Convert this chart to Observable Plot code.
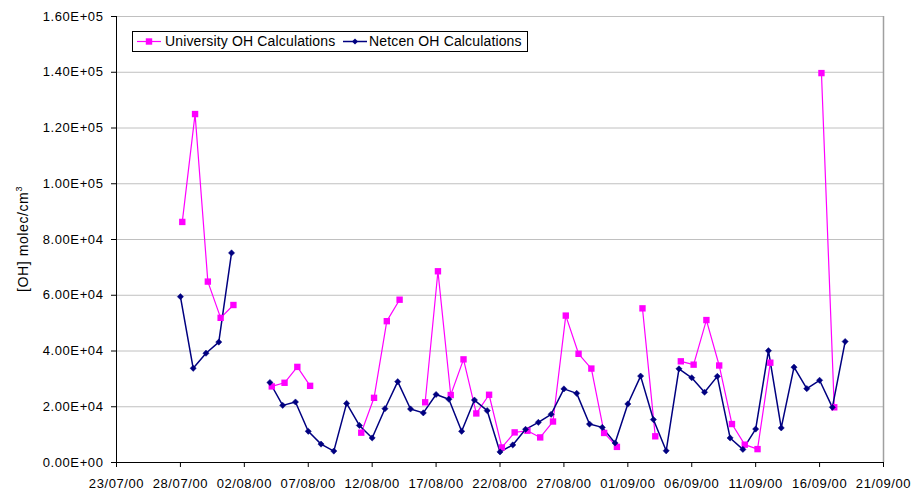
<!DOCTYPE html>
<html>
<head>
<meta charset="utf-8">
<script src="https://cdn.jsdelivr.net/npm/d3@7"></script>
<script src="https://cdn.jsdelivr.net/npm/@observablehq/plot@0.6"></script>
<style>
  html, body { margin: 0; padding: 0; background: #fff; }
  #wrap { position: relative; width: 912px; height: 490px; font-family: "Liberation Sans", Arial, sans-serif; }
  #legend { position: absolute; left: 132px; top: 31px; width: 394px; height: 19px; border: 1px solid #000; background: #fff; font-size: 14px; letter-spacing: 0.15px; line-height: 19px; color: #000; }
  #legend .sw { position: absolute; top: 0; }
  #legend .tx { position: absolute; top: 0; white-space: nowrap; }
  #ylabel { position: absolute; left: 22px; top: 239px; transform: translate(-50%, -50%) rotate(-90deg); white-space: nowrap; font-size: 14px; letter-spacing: 0.6px; color: #000; }
  #ylabel sup { font-size: 9px; vertical-align: 6px; }
</style>
</head>
<body>
<div id="wrap">
  <div id="chart"></div>
  <div id="ylabel">[OH] molec/cm<sup>3</sup></div>
  <div id="legend"></div>
</div>
<script>
// ---- Data ----
const dates = [
  "2000-07-28","2000-07-29","2000-07-30","2000-07-31",
  "2000-08-01","2000-08-02","2000-08-03","2000-08-04","2000-08-05","2000-08-06","2000-08-07","2000-08-08",
  "2000-08-09","2000-08-10","2000-08-11","2000-08-12","2000-08-13","2000-08-14","2000-08-15","2000-08-16",
  "2000-08-17","2000-08-18","2000-08-19","2000-08-20","2000-08-21","2000-08-22","2000-08-23","2000-08-24",
  "2000-08-25","2000-08-26","2000-08-27","2000-08-28","2000-08-29","2000-08-30","2000-08-31",
  "2000-09-01","2000-09-02","2000-09-03","2000-09-04","2000-09-05","2000-09-06","2000-09-07","2000-09-08",
  "2000-09-09","2000-09-10","2000-09-11","2000-09-12","2000-09-13","2000-09-14","2000-09-15","2000-09-16",
  "2000-09-17","2000-09-18"
];
// sampling time of day for each series (University samples sit slightly later in the day)
const universityTime = "T03:30Z";
const netcenTime = "T00:00Z";
const university = [
  86300,125000,64900,51900,56500,null,null,27300,28600,34300,27500,null,null,null,
  10700,23200,50700,58400,null,21600,68600,24200,37000,17600,24300,5400,10800,11400,
  9000,14700,52700,39000,33700,10600,5600,null,55300,9400,null,36300,35100,51100,
  34800,13800,6400,4800,35800,null,null,null,139700,19800,null
];
const netcen = [
  59500,33800,39200,43200,75200,null,null,28700,20500,21700,11200,6600,4100,21200,
  13300,8800,19300,29000,19200,17800,24400,22700,11200,22400,18600,3800,6300,11900,
  14400,17300,26400,24800,13800,12600,7000,21000,31000,15400,4200,33600,30400,25200,
  30900,8800,4700,12000,40100,12400,34200,26500,29500,19800,43400
];
const xTickLabels = ["23/07/00","28/07/00","02/08/00","07/08/00","12/08/00","17/08/00","22/08/00",
  "27/08/00","01/09/00","06/09/00","11/09/00","16/09/00","21/09/00"];
const yTicks = [0,20000,40000,60000,80000,100000,120000,140000,160000];
const seriesNames = ["University OH Calculations","Netcen OH Calculations"];
const colors = ["#ff00ff","#000080"];

// ---- Build ----
const parseTick = d3.utcParse("%d/%m/%y");
const xTicks = xTickLabels.map(parseTick);
const xDomain = [xTicks[0], xTicks[xTicks.length - 1]];
const uniData = dates.map((d, i) => ({date: new Date(d + universityTime), v: university[i]}));
const netData = dates.map((d, i) => ({date: new Date(d + netcenTime), v: netcen[i]}));

function expFmt(v) {
  const [m, e] = v.toExponential(2).split("e");
  const n = +e;
  return m + "E" + (n < 0 ? "-" : "+") + String(Math.abs(n)).padStart(2, "0");
}

const chart = Plot.plot({
  width: 912,
  height: 490,
  marginLeft: 116,
  marginRight: 29,
  marginTop: 16,
  marginBottom: 28,
  style: {fontFamily: "'Liberation Sans', Arial, sans-serif", fontSize: "13px", letterSpacing: "0.6px", background: "#fff", color: "#000"},
  x: {type: "utc", domain: xDomain, ticks: xTicks, tickFormat: d3.utcFormat("%d/%m/%y"), tickSize: 5, tickPadding: 11, label: null},
  y: {domain: [0, 160000], ticks: yTicks, tickFormat: expFmt, tickSize: 5, tickPadding: 8, label: null},
  marks: [
    Plot.ruleY(yTicks, {stroke: "#c0c0c0", strokeWidth: 1}),
    Plot.ruleX([xDomain[1]], {stroke: "#a0a0a0", strokeWidth: 1.5}),
    Plot.ruleY([0], {stroke: "#000", strokeWidth: 1}),
    Plot.ruleX([xDomain[0]], {stroke: "#000", strokeWidth: 1}),
    Plot.line(uniData, {x: "date", y: "v", stroke: colors[0], strokeWidth: 1.2}),
    Plot.line(netData, {x: "date", y: "v", stroke: colors[1], strokeWidth: 1.5}),
    Plot.dot(uniData.filter(d => d.v != null), {x: "date", y: "v", symbol: "square", r: 3.6, fill: colors[0], stroke: "none"}),
    Plot.dot(netData.filter(d => d.v != null), {x: "date", y: "v", symbol: "diamond2", r: 2.8, fill: colors[1], stroke: colors[1], strokeWidth: 0.5})
  ]
});
document.getElementById("chart").appendChild(chart);

// ---- Legend ----
const legend = document.getElementById("legend");
const legendItems = [
  {name: seriesNames[0], color: colors[0], sym: "square", swLeft: 4, txLeft: 32},
  {name: seriesNames[1], color: colors[1], sym: "diamond", swLeft: 210, txLeft: 236}
];
legendItems.forEach(it => {
  const sw = document.createElementNS("http://www.w3.org/2000/svg", "svg");
  sw.setAttribute("class", "sw");
  sw.setAttribute("width", 24);
  sw.setAttribute("height", 19);
  sw.style.left = it.swLeft + "px";
  const line = document.createElementNS(sw.namespaceURI, "line");
  line.setAttribute("x1", 0); line.setAttribute("x2", 24);
  line.setAttribute("y1", 9.5); line.setAttribute("y2", 9.5);
  line.setAttribute("stroke", it.color); line.setAttribute("stroke-width", it.sym === "square" ? 1.2 : 1.5);
  sw.appendChild(line);
  const s = document.createElementNS(sw.namespaceURI, "path");
  s.setAttribute("d", it.sym === "square" ? "M8.8,6.3h6.4v6.4h-6.4z" : "M12,6.5L15,9.5L12,12.5L9,9.5z");
  s.setAttribute("fill", it.color);
  sw.appendChild(s);
  legend.appendChild(sw);
  const tx = document.createElement("span");
  tx.className = "tx";
  tx.style.left = it.txLeft + "px";
  tx.textContent = it.name;
  legend.appendChild(tx);
});
</script>
</body>
</html>
